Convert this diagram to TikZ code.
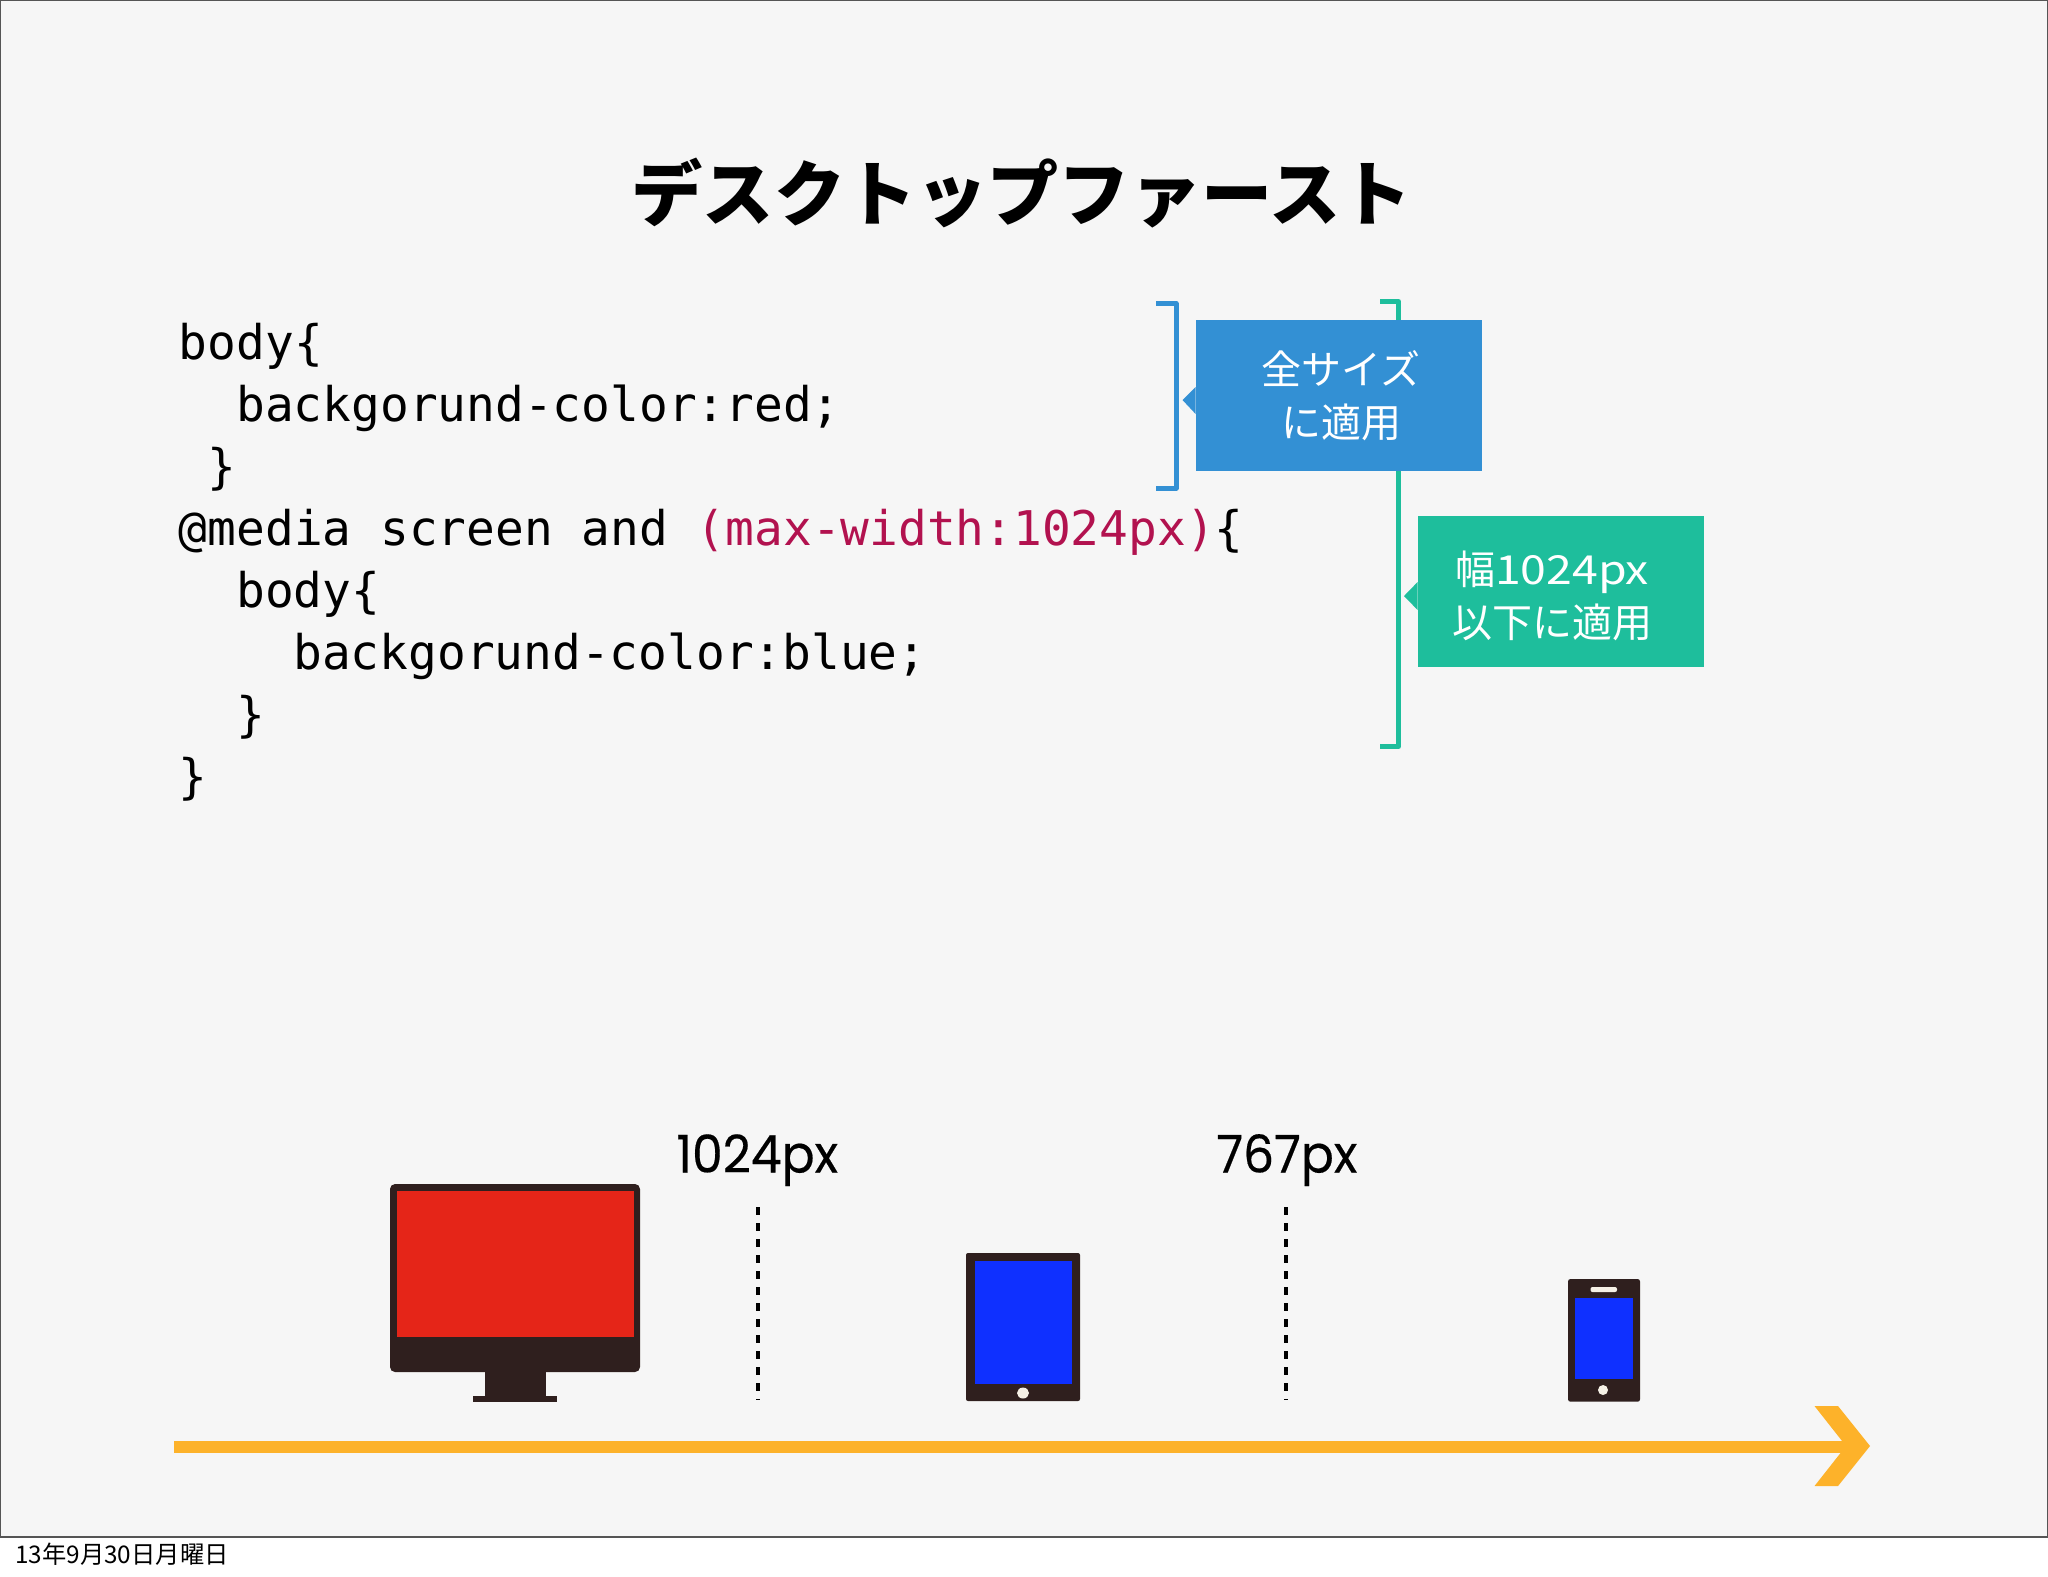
\documentclass[tikz,border=0pt]{standalone}
\usepackage{fontspec}
\newfontfamily\cjk{Noto Sans CJK JP}
\newfontfamily\cjkwide[FakeStretch=1.16]{Noto Sans CJK JP}
\newfontfamily\codefont{DejaVu Sans Mono}
\newfontfamily\labelfont[FakeStretch=0.94,FakeBold=0.35]{Poppins}
\definecolor{slidebg}{HTML}{F6F6F6}
\definecolor{framegray}{HTML}{555555}
\definecolor{boxblue}{HTML}{3390D4}
\definecolor{boxgreen}{HTML}{1EBE9C}
\definecolor{arroworange}{HTML}{FDB22A}
\definecolor{devicedark}{HTML}{2F1F1E}
\definecolor{screenred}{HTML}{E52518}
\definecolor{screenblue}{HTML}{0F30FF}
\definecolor{codepink}{HTML}{B2124F}
\definecolor{buttonwhite}{HTML}{F5F0E6}
\tikzset{
  codeline/.style={anchor=base west,inner sep=0pt,text=black,font=\codefont\fontsize{23.9}{28}\selectfont},
  calloutbox/.style={rectangle,inner sep=0pt,minimum width=143pt,minimum height=75.5pt},
  callouttext/.style={inner sep=0pt,text=white,align=center,font=\cjk\fontsize{20}{26.5}\selectfont},
  pxlabel/.style={anchor=base west,inner sep=0pt,text=black,font=\labelfont\fontsize{26}{30}\selectfont},
  bracketline/.style={line width=2.5pt,line join=round},
  breakdash/.style={line width=2pt,dash pattern=on 4pt off 4pt,draw=black},
}
\begin{document}
\begin{tikzpicture}[x=0.5pt,y=-0.5pt]
\useasboundingbox (0,0) rectangle (2048,1576);
\fill[white] (0,0) rectangle (2048,1576);
\draw[fill=slidebg,draw=framegray,line width=0.75pt] (0.5,0.5) rectangle (2047.5,1537);

% title
\node[inner sep=0pt,text=black,font=\cjk\bfseries\fontsize{35.6}{40}\selectfont] (title) at (1021.5,193) {デスクトップファースト};

% code
\node[codeline] (c1) at (178.5,359) {body\{};
\node[codeline] (c2) at (236,421) {backgorund-color:red;};
\node[codeline] (c3) at (207,483) {\}};
\node[codeline] (c4) at (178.5,545) {@media screen and \textcolor{codepink}{(max-width:1024px)}\{};
\node[codeline] (c5) at (236,607) {body\{};
\node[codeline] (c6) at (293,669) {backgorund-color:blue;};
\node[codeline] (c7) at (236,731) {\}};
\node[codeline] (c8) at (178.5,793) {\}};

% brackets
\draw[bracketline,boxgreen] (1380,301.5) -- (1398.5,301.5) -- (1398.5,746.5) -- (1380,746.5);
\draw[bracketline,boxblue] (1156,303.5) -- (1176,303.5) -- (1176,488) -- (1156,488);

% callouts
\node[calloutbox,fill=boxblue] (blue) at (1339,395.5) {};
\fill[boxblue] (blue.west |- 0,387) -- (1182.5,400) -- (blue.west |- 0,414) -- cycle;
\node[calloutbox,fill=boxgreen] (green) at (1561,591.5) {};
\fill[boxgreen] (green.west |- 0,582) -- (1404,596) -- (green.west |- 0,610) -- cycle;
\node[callouttext] (bluetext) at (1341,396) {全サイズ\\に適用};
\node[callouttext] (greentext) at (1552,596) {幅{\cjkwide 1024px}\\以下に適用};

% breakpoints
\node[pxlabel] (l1024) at (676,1172.5) {1024px};
\node[pxlabel] (l767) at (1216,1172.5) {767px};
\coordinate (d1a) at (758,1207);
\coordinate (d1b) at (758,1400);
\coordinate (d2a) at (1286,1207);
\coordinate (d2b) at (1286,1400);
\draw[breakdash] (d1a) -- (d1b);
\draw[breakdash] (d2a) -- (d2b);

% monitor
\fill[devicedark,rounded corners=2.5pt] (390,1184) rectangle (640,1372);
\fill[devicedark] (485,1366) rectangle (545.5,1397);
\fill[devicedark] (473,1396) rectangle (557,1402);
\fill[screenred] (396.7,1191) rectangle (634,1337);

% tablet
\fill[devicedark,rounded corners=1pt] (966,1253) rectangle (1080,1401);
\fill[screenblue] (974.5,1261) rectangle (1072,1383.7);
\fill[buttonwhite] (1023,1393) ellipse (6 and 5.5);

% phone
\fill[devicedark,rounded corners=1.2pt] (1568,1279) rectangle (1640,1401.7);
\fill[screenblue] (1575,1298) rectangle (1632.7,1379);
\fill[buttonwhite,rounded corners=1pt] (1590.5,1287) rectangle (1617,1292);
\fill[buttonwhite] (1603,1390) ellipse (5 and 5);

% arrow
\coordinate (arrowstart) at (174,1447);
\coordinate (arrowend) at (1850,1447);
\draw[arroworange,line width=6pt] (arrowstart) -- (arrowend);
\fill[arroworange] (1814.5,1406) -- (1838,1406) -- (1870,1446) -- (1838,1486) -- (1814.5,1486) -- (1846,1446) -- cycle;

% date
\node[anchor=base west,inner sep=0pt,text=black,font=\cjk\fontsize{12.15}{14}\selectfont] (date) at (15,1563.5) {13年9月30日月曜日};
\end{tikzpicture}
\end{document}
